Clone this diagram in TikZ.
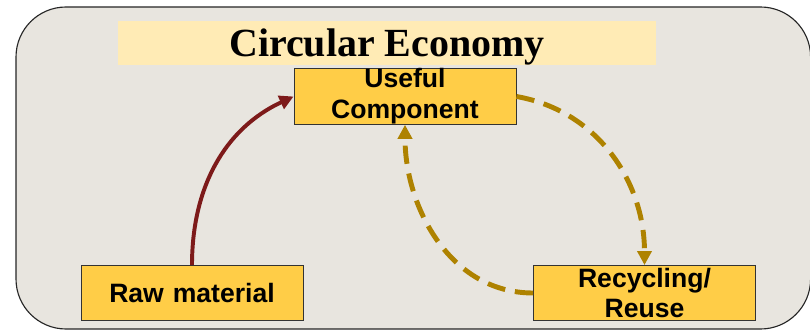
\documentclass[tikz,border=0pt]{standalone}
\usepackage{fontspec}
\usetikzlibrary{arrows.meta}
\newfontfamily\boxfont{Liberation Sans}
\newfontfamily\titlefont{Liberation Serif}
\definecolor{framegray}{HTML}{E8E5DF}
\definecolor{bandyellow}{HTML}{FFEBB5}
\definecolor{boxyellow}{HTML}{FFCD47}
\definecolor{rawbrown}{HTML}{7D1A1A}
\definecolor{loopgold}{HTML}{AE8200}
\begin{document}
\begin{tikzpicture}[x=0.025cm, y=0.025cm,
    stage/.style={draw=black!80, line width=0.6pt, fill=boxyellow,
        minimum width=5.55cm, minimum height=1.375cm, inner sep=0pt,
        text width=5.5cm, align=center,
        font=\boxfont\bfseries\fontsize{18.9}{22}\selectfont},
    rawflow/.style={rawbrown, line width=2.8pt, -{Triangle[length=10pt, width=10pt]}},
    cycleflow/.style={loopgold, line width=3.5pt, dash pattern=on 13pt off 7pt,
        -{Triangle[length=10pt, width=10pt]}}]
    \useasboundingbox (0,0) rectangle (810,330);

    % Draw outer frame
    \draw[draw=black!85, line width=0.8pt, fill=framegray, rounded corners=1.25cm]
        (16,1) rectangle (810.6,323);

    % Title band
    \node[fill=bandyellow, minimum width=13.45cm, minimum height=1.1cm, inner sep=0pt,
        text depth=0pt, font=\titlefont\bfseries\fontsize{28.4}{30}\selectfont]
        (title) at (387,287) {Circular Economy};

    % Stages
    \node[stage] (useful) at (405,233.5) {Useful\\Component};
    \node[stage] (raw) at (192,37) {Raw material};
    \node[stage] (recycle) at (644.5,37) {Recycling/\\Reuse};

    % Raw material feeds the component
    \draw[rawflow] (raw.north) to[out=90, in=205] (useful.west);

    % Recycling loop
    \draw[cycleflow] (useful.east) to[out=-10, in=90] (recycle.north);
    \draw[cycleflow] (recycle.west) to[out=180, in=-90] (useful.south);
\end{tikzpicture}
\end{document}
